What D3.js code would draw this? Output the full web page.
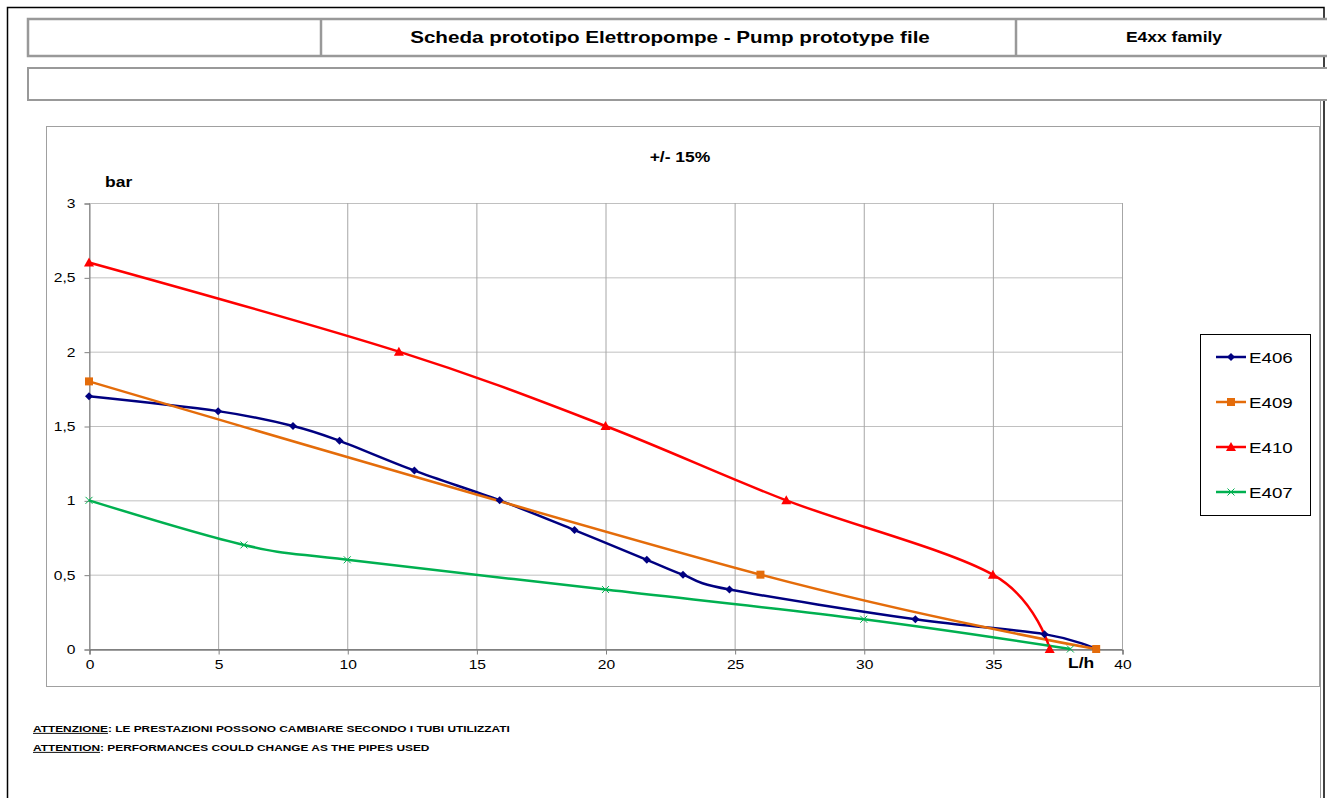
<!DOCTYPE html>
<html>
<head>
<meta charset="utf-8">
<script src="https://d3js.org/d3.v7.min.js"></script>
<style>
  body { margin: 0; background: #fff; }
  svg { display: block; font-family: "Liberation Sans", Arial, sans-serif; }
</style>
</head>
<body>
<svg id="chart" width="1327" height="798"></svg>
<script>
// ── 数据 ─────────────────────────────────────────────
const seriesNames = ["E406", "E409", "E410", "E407"];
const e406 = [[0, 1.7], [5, 1.6], [7.9, 1.5], [9.7, 1.4], [12.6, 1.2], [15.9, 1.0], [18.8, 0.8],
              [21.6, 0.6], [23, 0.5], [24.8, 0.4], [32, 0.2], [37, 0.1], [39, 0]];
const e409 = [[0, 1.8], [26, 0.5], [39, 0]];
const e410 = [[0, 2.6], [12, 2.0], [20, 1.5], [27, 1.0], [35, 0.5], [37.2, 0]];
const e407 = [[0, 1.0], [6, 0.7], [10, 0.6], [20, 0.4], [30, 0.2], [38, 0]];
const xTicks = [0, 5, 10, 15, 20, 25, 30, 35, 40];
const yTicks = [0, 0.5, 1, 1.5, 2, 2.5, 3];

const headerTitle = "Scheda prototipo Elettropompe - Pump prototype file";
const headerRight = "E4xx family";
const chartTitle = "+/- 15%";

const series = [
    { name: seriesNames[0], data: e406, color: "#000080", marker: "diamond" },
    { name: seriesNames[1], data: e409, color: "#E46C0A", marker: "square" },
    { name: seriesNames[2], data: e410, color: "#FF0000", marker: "triangle" },
    { name: seriesNames[3], data: e407, color: "#00B050", marker: "cross" },
];

const svg = d3.select("#chart");

// 原图文字横向拉伸
const SX = 1.25;
function stretch(sel) {
    sel.each(function () {
        const t = d3.select(this);
        const x0 = +t.attr("x") || 0;
        t.attr("transform", `translate(${x0},0) scale(${SX},1) translate(${-x0},0)`);
    });
    return sel;
}

// ── 页面框架 ─────────────────────────────────────────
svg.append("rect").attr("x", 7.5).attr("y", 7.5).attr("width", 1316.5).attr("height", 800)
    .attr("fill", "none").attr("stroke", "#000").attr("stroke-width", 1.5);

const cellStroke = "#999";
svg.append("rect").attr("x", 28).attr("y", 19).attr("width", 1310).attr("height", 37)
    .attr("fill", "#fff").attr("stroke", cellStroke).attr("stroke-width", 2.5);
[321, 1016].forEach(x => svg.append("line")
    .attr("x1", x).attr("x2", x).attr("y1", 19).attr("y2", 56)
    .attr("stroke", cellStroke).attr("stroke-width", 2.5));
svg.append("rect").attr("x", 28).attr("y", 68).attr("width", 1310).attr("height", 32)
    .attr("fill", "#fff").attr("stroke", cellStroke).attr("stroke-width", 2);

stretch(svg.append("text").attr("x", 670).attr("y", 43).attr("text-anchor", "middle")
    .attr("font-size", 16.5).attr("font-weight", "bold").text(headerTitle));
stretch(svg.append("text").attr("x", 1174).attr("y", 42).attr("text-anchor", "middle")
    .attr("font-size", 14).attr("font-weight", "bold").text(headerRight));

// 右侧双线
svg.append("line").attr("x1", 1320.5).attr("x2", 1320.5).attr("y1", 100).attr("y2", 798)
    .attr("stroke", "#999").attr("stroke-width", 1);

// ── 图表区域 ─────────────────────────────────────────
svg.append("rect").attr("x", 46.5).attr("y", 126.5).attr("width", 1273).attr("height", 560)
    .attr("fill", "#fff").attr("stroke", "#a0a0a0").attr("stroke-width", 1);

const plot = { left: 89, right: 1122, top: 203, bottom: 649 };
const x = d3.scaleLinear().domain([0, 40]).range([plot.left, plot.right]);
const y = d3.scaleLinear().domain([0, 3]).range([plot.bottom, plot.top]);

const g = svg.append("g");

// 网格
g.selectAll(".hgrid").data(yTicks).join("line")
    .attr("x1", plot.left).attr("x2", plot.right)
    .attr("y1", d => y(d) + 0.5).attr("y2", d => y(d) + 0.5)
    .attr("stroke", "#c0c0c0").attr("stroke-width", 1);
g.selectAll(".vgrid").data(xTicks).join("line")
    .attr("x1", d => x(d) + 0.5).attr("x2", d => x(d) + 0.5)
    .attr("y1", plot.top).attr("y2", plot.bottom)
    .attr("stroke", "#a6a6a6").attr("stroke-width", 1);

// 坐标轴
const fmt = d => String(d).replace(".", ",");
const xAxis = g.append("g").attr("transform", `translate(0.5,${plot.bottom + 0.5})`)
    .call(d3.axisBottom(x).tickValues(xTicks).tickFormat(fmt).tickSize(5).tickPadding(6));
const yAxis = g.append("g").attr("transform", `translate(${plot.left + 0.5},0.5)`)
    .call(d3.axisLeft(y).tickValues(yTicks).tickFormat(fmt).tickSize(5).tickPadding(9));
[xAxis, yAxis].forEach(a => {
    a.select(".domain").attr("stroke", "#808080");
    a.selectAll(".tick line").attr("stroke", "#808080");
    stretch(a.selectAll(".tick text").attr("font-size", 12.5).attr("fill", "#000")
        .attr("font-family", "Liberation Sans, Arial, sans-serif"));
});
xAxis.select(".domain").attr("stroke", "#404040");

// 标题和轴标签
stretch(svg.append("text").attr("x", 680).attr("y", 162).attr("text-anchor", "middle")
    .attr("font-size", 14).attr("font-weight", "bold").text(chartTitle));
stretch(svg.append("text").attr("x", 105).attr("y", 187)
    .attr("font-size", 14).attr("font-weight", "bold").text("bar"));
stretch(svg.append("text").attr("x", 1068).attr("y", 668)
    .attr("font-size", 14).attr("font-weight", "bold").text("L/h"));

// ── 曲线 ─────────────────────────────────────────────
const line = d3.line().x(d => x(d[0])).y(d => y(d[1])).curve(d3.curveCardinal.tension(0));

function drawMarker(sel, type, color) {
    if (type === "diamond") {
        sel.append("path").attr("d", "M0,-4L4,0L0,4L-4,0Z").attr("fill", color);
    } else if (type === "square") {
        sel.append("rect").attr("x", -4).attr("y", -4).attr("width", 8).attr("height", 8).attr("fill", color);
    } else if (type === "triangle") {
        sel.append("path").attr("d", "M0,-5L5,4L-5,4Z").attr("fill", color);
    } else {
        sel.append("path").attr("d", "M-3.5,-3.5L3.5,3.5M-3.5,3.5L3.5,-3.5")
            .attr("stroke", color).attr("stroke-width", 1).attr("fill", "none");
    }
}

series.forEach(s => {
    g.append("path").datum(s.data).attr("d", line)
        .attr("fill", "none").attr("stroke", s.color).attr("stroke-width", 2.5);
});
series.forEach(s => {
    g.selectAll(null).data(s.data).join("g")
        .attr("transform", d => `translate(${x(d[0])},${y(d[1])})`)
        .each(function () { drawMarker(d3.select(this), s.marker, s.color); });
});

// ── 图例 ─────────────────────────────────────────────
svg.append("rect").attr("x", 1200.5).attr("y", 334.5).attr("width", 110).attr("height", 181)
    .attr("fill", "#fff").attr("stroke", "#000").attr("stroke-width", 1);
const legend = svg.selectAll(".legend").data(series).join("g")
    .attr("transform", (d, i) => `translate(1216,${357 + i * 45})`);
legend.append("line").attr("x1", 0).attr("x2", 30).attr("stroke", d => d.color).attr("stroke-width", 2.5);
legend.append("g").attr("transform", "translate(15,0)")
    .each(function (d) { drawMarker(d3.select(this), d.marker, d.color); });
stretch(legend.append("text").attr("x", 33).attr("y", 6).attr("font-size", 15).text(d => d.name));

// ── 脚注 ─────────────────────────────────────────────
const notes = [["ATTENZIONE", ": LE PRESTAZIONI POSSONO CAMBIARE SECONDO I TUBI UTILIZZATI"],
               ["ATTENTION", ": PERFORMANCES COULD CHANGE AS THE PIPES USED"]];
notes.forEach((n, i) => {
    const t = svg.append("text").attr("x", 33).attr("y", 732 + i * 19)
        .attr("font-size", 9.5).attr("font-weight", "bold");
    t.append("tspan").attr("text-decoration", "underline").text(n[0]);
    t.append("tspan").text(n[1]);
    stretch(t);
});
</script>
</body>
</html>
